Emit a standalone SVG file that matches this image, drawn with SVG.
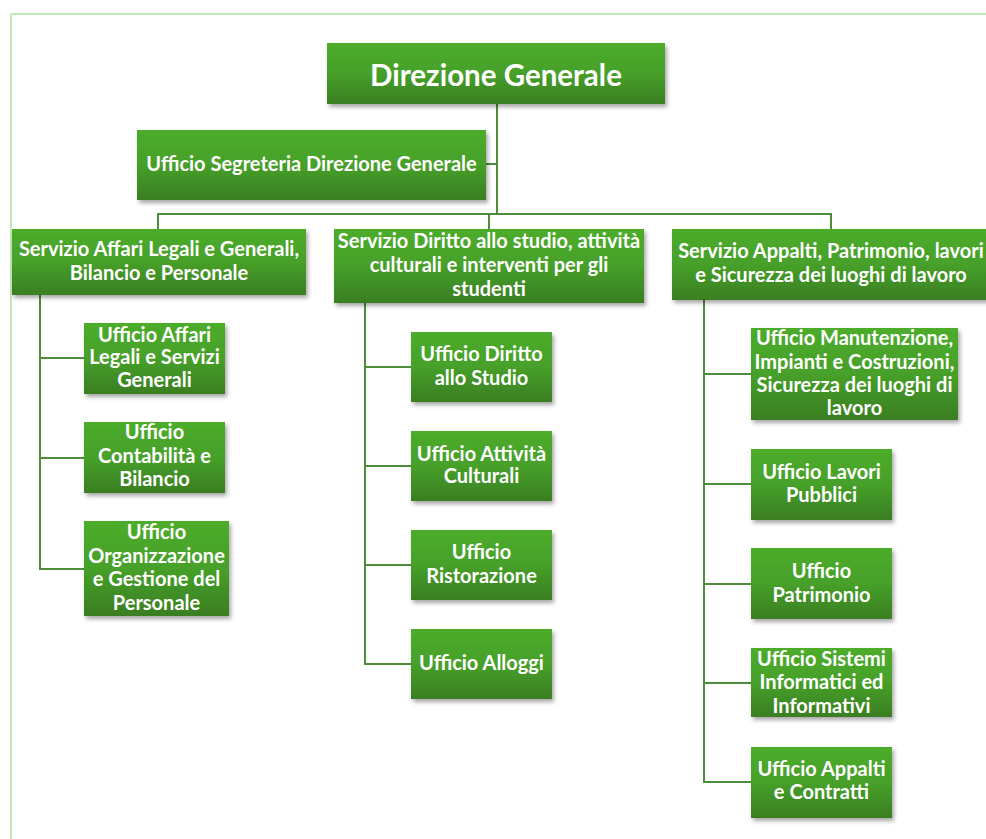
<svg xmlns="http://www.w3.org/2000/svg" width="986" height="839" viewBox="0 0 986 839">
<defs>
<linearGradient id="g" x1="0" y1="0" x2="0" y2="1">
<stop offset="0" stop-color="#4dac2b"/>
<stop offset="0.5" stop-color="#46a029"/>
<stop offset="1" stop-color="#3a7e22"/>
</linearGradient>
<filter id="sh" x="-10%" y="-10%" width="130%" height="140%">
<feDropShadow dx="2" dy="3" stdDeviation="2" flood-color="#000" flood-opacity="0.35"/>
</filter>
<style>
.b{fill:url(#g);filter:url(#sh)}
.t{font-family:Lato,"Open Sans","Liberation Sans",sans-serif;font-weight:bold;fill:#fff;text-anchor:middle}
.l{font-size:20px}
.s{font-size:20px}
.c{fill:none;stroke:#4e8d3c;stroke-width:2}
</style>
</defs>
<rect width="986" height="839" fill="#fff"/>
<path d="M11,839 V14 H986" fill="none" stroke="#c5e8b8" stroke-width="2"/>
<g id="connectors" class="c">
<path d="M497,104 V214"/>
<path d="M486,164 H497"/>
<path d="M158,229 V214 H831 V229"/>
<path d="M489,214 V229"/>
<path d="M40,295 V569 H84 M40,358 H84 M40,458 H84"/>
<path d="M365,303 V664 H411 M365,367 H411 M365,466 H411 M365,565 H411"/>
<path d="M704,300 V782 H751 M704,374 H751 M704,484 H751 M704,584 H751 M704,683 H751"/>
</g>
<g id="dg"><rect class="b" x="327" y="43" width="338" height="61"/><text class="t" x="496" y="85.5" font-size="29.5">Direzione Generale</text></g>
<g id="segreteria"><rect class="b" x="137" y="130" width="349" height="70"/><text class="t l" x="311.5" y="171">Ufficio Segreteria Direzione Generale</text></g>
<g id="servizio-affari"><rect class="b" x="12" y="229" width="294" height="66"/><text class="t s" x="159" y="256">Servizio Affari Legali e Generali,<tspan x="159" y="279.5">Bilancio e Personale</tspan></text></g>
<g id="servizio-diritto"><rect class="b" x="334" y="229" width="310" height="74"/><text class="t s" x="489" y="248">Servizio Diritto allo studio, attività<tspan x="489" y="272">culturali e interventi per gli</tspan><tspan x="489" y="296">studenti</tspan></text></g>
<g id="servizio-appalti"><rect class="b" x="672" y="229" width="320" height="71"/><text class="t s" x="831" y="258">Servizio Appalti, Patrimonio, lavori<tspan x="831" y="282">e Sicurezza dei luoghi di lavoro</tspan></text></g>
<g id="uff-affari"><rect class="b" x="84" y="323" width="141" height="71"/><text class="t l" x="154.5" y="341.7">Ufficio Affari<tspan x="154.5" y="364.3">Legali e Servizi</tspan><tspan x="154.5" y="387.3">Generali</tspan></text></g>
<g id="uff-contabilita"><rect class="b" x="84" y="422" width="141" height="71"/><text class="t l" x="154.5" y="439.3">Ufficio<tspan x="154.5" y="463.3">Contabilità e</tspan><tspan x="154.5" y="486">Bilancio</tspan></text></g>
<g id="uff-organizzazione"><rect class="b" x="84" y="521" width="145" height="95"/><text class="t l" x="156.5" y="539.3">Ufficio<tspan x="156.5" y="563.3">Organizzazione</tspan><tspan x="156.5" y="586">e Gestione del</tspan><tspan x="156.5" y="610">Personale</tspan></text></g>
<g id="uff-diritto"><rect class="b" x="411" y="332" width="141" height="70"/><text class="t l" x="481.5" y="361">Ufficio Diritto<tspan x="481.5" y="385">allo Studio</tspan></text></g>
<g id="uff-attivita"><rect class="b" x="411" y="431" width="141" height="70"/><text class="t l" x="481.5" y="461">Ufficio Attività<tspan x="481.5" y="483">Culturali</tspan></text></g>
<g id="uff-ristorazione"><rect class="b" x="411" y="530" width="141" height="70"/><text class="t l" x="481.5" y="559.3">Ufficio<tspan x="481.5" y="582.7">Ristorazione</tspan></text></g>
<g id="uff-alloggi"><rect class="b" x="411" y="629" width="141" height="70"/><text class="t l" x="481.5" y="670">Ufficio Alloggi</text></g>
<g id="uff-manutenzione"><rect class="b" x="751" y="328" width="207" height="92"/><text class="t l" x="854.5" y="345">Ufficio Manutenzione,<tspan x="854.5" y="369.3">Impianti e Costruzioni,</tspan><tspan x="854.5" y="391.7">Sicurezza dei luoghi di</tspan><tspan x="854.5" y="415">lavoro</tspan></text></g>
<g id="uff-lavori"><rect class="b" x="751" y="449" width="141" height="71"/><text class="t l" x="821.5" y="479.3">Ufficio Lavori<tspan x="821.5" y="501.7">Pubblici</tspan></text></g>
<g id="uff-patrimonio"><rect class="b" x="751" y="548" width="141" height="71"/><text class="t l" x="821.5" y="578.3">Ufficio<tspan x="821.5" y="601.7">Patrimonio</tspan></text></g>
<g id="uff-sistemi"><rect class="b" x="751" y="648" width="141" height="69"/><text class="t l" x="821.5" y="666">Ufficio Sistemi<tspan x="821.5" y="689.3">Informatici ed</tspan><tspan x="821.5" y="712.7">Informativi</tspan></text></g>
<g id="uff-appalti"><rect class="b" x="751" y="747" width="141" height="71"/><text class="t l" x="821.5" y="776">Ufficio Appalti<tspan x="821.5" y="799.3">e Contratti</tspan></text></g>
</svg>
